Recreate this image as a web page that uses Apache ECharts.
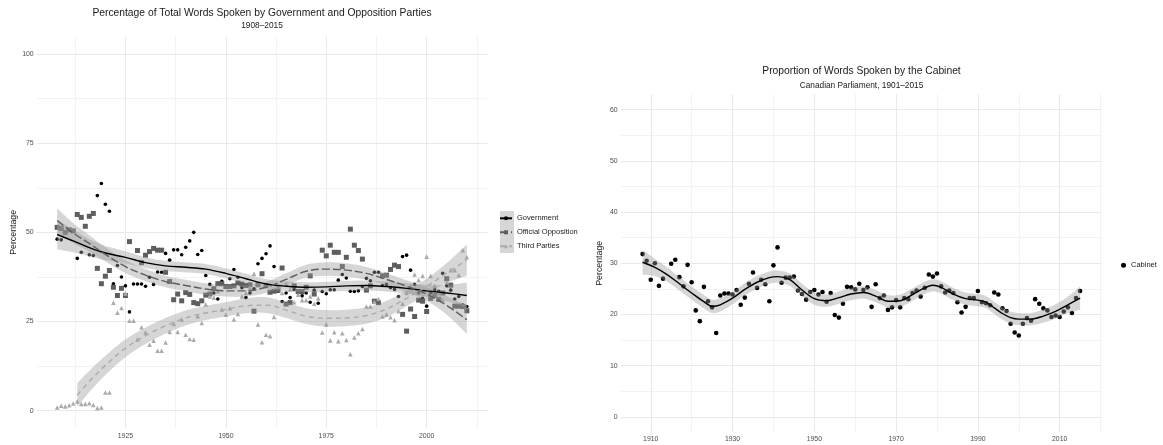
<!DOCTYPE html>
<html><head><meta charset="utf-8">
<script src="https://cdn.jsdelivr.net/npm/echarts@6/dist/echarts.min.js"></script>
<style>html,body{margin:0;padding:0;background:#fff}#c{width:1163px;height:445px}</style>
</head><body><div id="c"></div>
<script>
// ---------- Left panel: points ----------
const govYears=[1908,1909,1913,1914,1916,1917,1918,1919,1920,1921,1922,1923,1924,1925,1926,1927,1928,1929,1930,1931,1932,1933,1934,1935,1936,1937,1938,1939,1940,1941,1942,1943,1944,1945,1946,1947,1948,1949,1950,1951,1952,1953,1954,1955,1956,1957,1958,1959,1960,1961,1962,1963,1964,1965,1966,1967,1968,1969,1970,1971,1972,1973,1974,1975,1976,1977,1978,1979,1980,1981,1982,1983,1984,1985,1986,1987,1988,1989,1990,1991,1992,1993,1994,1995,1996,1997,1998,1999,2000,2001,2002,2003,2004,2005,2006,2007,2008,2009,2010];
const govValues=[48.1,47.9,42.7,44.4,43.7,43.5,60.3,63.7,57.9,55.9,35.6,40.7,37.5,35.0,27.7,35.5,35.5,35.5,34.9,37.4,35.4,38.9,38.8,44.1,42.2,45.1,45.1,43.7,45.8,47.6,50.0,43.8,44.9,37.9,35.4,33.0,31.3,36.3,35.0,37.0,39.6,37.4,34.5,31.7,33.0,34.2,41.2,42.7,44.0,46.2,40.4,33.5,30.6,33.0,31.7,34.0,33.0,32.2,33.0,30.4,33.8,30.1,33.4,32.8,33.9,33.9,36.6,38.2,37.2,33.5,33.4,33.6,34.8,37.1,36.4,38.8,38.8,35.1,35.4,34.5,34.0,32.0,43.2,43.6,39.4,35.4,33.0,31.5,29.3,33.0,34.0,33.5,38.5,35.0,33.8,31.3,32.0,29.6,29.2];
const oppYears=[1908,1909,1910,1911,1912,1913,1914,1915,1916,1917,1918,1919,1920,1921,1922,1923,1924,1925,1926,1928,1929,1930,1931,1932,1933,1934,1935,1936,1937,1938,1939,1940,1941,1942,1943,1944,1945,1946,1947,1948,1949,1950,1951,1952,1953,1954,1955,1956,1957,1958,1959,1960,1961,1962,1963,1964,1965,1966,1967,1968,1969,1970,1971,1972,1974,1975,1976,1977,1978,1979,1980,1981,1982,1983,1984,1985,1986,1987,1988,1989,1990,1991,1992,1993,1994,1995,1996,1997,1998,1999,2000,2001,2002,2003,2004,2005,2006,2007,2008,2009,2010];
const oppValues=[51.4,51.1,50.0,50.7,50.4,55.0,54.2,51.7,54.5,55.3,39.9,35.6,37.7,39.3,34.6,32.3,34.3,32.3,47.4,44.9,41.5,43.6,44.6,45.5,45.0,45.0,38.8,36.2,31.1,32.7,30.8,33.1,32.6,30.3,30.0,30.8,32.4,32.7,34.2,35.6,35.6,34.8,34.8,35.0,35.8,35.5,35.1,35.3,27.9,35.3,38.4,35.1,33.2,33.5,33.8,40.0,29.9,30.3,35.0,33.4,33.4,34.6,37.8,32.7,45.0,43.4,46.4,44.4,44.4,40.4,43.0,50.9,46.4,44.9,42.5,33.8,35.0,30.7,30.3,37.8,38.0,39.6,40.8,40.4,27.0,22.3,28.5,26.4,31.0,30.7,27.8,31.5,32.4,31.2,33.0,37.0,35.2,29.3,29.3,29.2,28.0];
const thirdYears=[1908,1909,1910,1911,1912,1913,1914,1915,1916,1917,1918,1919,1920,1921,1922,1923,1924,1925,1926,1927,1928,1929,1930,1931,1932,1933,1934,1935,1936,1937,1938,1939,1940,1941,1942,1943,1944,1945,1946,1947,1948,1949,1950,1951,1952,1953,1954,1955,1956,1957,1958,1959,1960,1961,1962,1963,1964,1965,1966,1967,1968,1969,1970,1971,1972,1973,1974,1975,1976,1977,1978,1979,1980,1981,1982,1983,1984,1985,1986,1987,1988,1989,1990,1991,1992,1993,1994,1995,1996,1997,1998,1999,2000,2001,2002,2003,2004,2005,2006,2007,2008,2009,2010];
const thirdValues=[0.9,1.4,1.2,1.5,2.0,2.6,1.9,1.9,2.1,1.6,0.7,0.9,5.1,5.1,30.3,27.5,28.8,32.9,25.2,25.2,20.0,23.4,21.9,18.5,19.6,16.8,16.8,19.1,22.1,24.3,22.1,25.6,21.3,20.1,19.9,26.5,24.6,29.8,32.0,31.7,33.5,28.4,26.9,28.7,25.6,27.1,32.0,33.0,34.5,38.4,24.2,19.2,21.3,20.9,26.3,34.8,33.0,35.5,34.0,30.4,32.5,31.0,31.0,32.0,30.0,31.5,21.9,24.2,19.7,22.0,19.5,21.7,19.8,15.8,20.5,21.7,22.9,29.2,29.2,30.5,31.3,26.4,27.0,26.2,25.4,27.9,30.0,33.0,35.0,38.2,36.6,37.8,43.2,37.8,35.0,33.0,31.0,36.0,39.4,39.4,38.0,45.0,43.0];

// ---------- Left panel: smoothers (fit and half-width of band) ----------
const govFitYears=[1908,1912,1916,1920,1925,1930,1935,1940,1945,1950,1955,1960,1965,1970,1975,1980,1985,1990,1995,2000,2005,2010];
const govFit=[49.4,47.6,45.7,44.2,43.0,41.5,40.6,40.2,39.7,38.5,37.0,35.5,34.9,34.6,34.7,35.0,35.1,34.8,34.3,33.6,33.0,32.3];
const govSE=[4.2,3.2,2.4,2.0,1.7,1.5,1.4,1.4,1.4,1.4,1.4,1.4,1.4,1.4,1.4,1.4,1.4,1.4,1.5,1.7,2.3,3.6];
const oppFitYears=[1908,1912,1916,1920,1925,1930,1935,1940,1945,1950,1955,1960,1965,1970,1975,1980,1985,1990,1995,2000,2005,2010];
const oppFit=[53.3,49.8,46.9,43.8,40.4,38.0,36.2,35.1,34.1,33.6,33.6,34.6,36.8,39.1,39.7,39.4,38.5,36.8,34.9,32.7,29.5,25.5];
const oppSE=[3.4,2.8,2.3,2.0,1.8,1.7,1.6,1.6,1.6,1.6,1.6,1.6,1.7,1.8,1.9,1.9,1.8,1.7,1.7,1.9,2.6,4.0];
const thirdFitYears=[1913,1916,1920,1925,1930,1935,1940,1945,1950,1955,1960,1965,1970,1975,1980,1985,1990,1995,2000,2005,2010];
const thirdFit=[4.4,8.2,12.7,17.5,21.0,23.8,26.0,27.4,28.4,29.4,29.6,28.2,26.5,25.9,26.0,26.7,28.5,31.5,34.8,38.6,42.2];
const thirdSE=[3.3,3.0,2.7,2.5,2.3,2.2,2.1,2.0,2.0,2.1,2.2,2.2,2.2,2.3,2.3,2.3,2.3,2.2,2.2,2.8,4.4];

// ---------- Right panel ----------
const cabYears=[1908,1909,1910,1911,1912,1913,1915,1916,1917,1918,1919,1920,1921,1922,1923,1924,1925,1926,1927,1928,1929,1930,1931,1932,1933,1934,1935,1936,1937,1938,1939,1940,1941,1942,1943,1944,1945,1946,1947,1948,1949,1950,1951,1952,1953,1954,1955,1956,1957,1958,1959,1960,1961,1962,1963,1964,1965,1966,1967,1968,1969,1970,1971,1972,1973,1974,1975,1976,1977,1978,1979,1980,1981,1982,1983,1984,1985,1986,1987,1988,1989,1990,1991,1992,1993,1994,1995,1996,1997,1998,1999,2000,2001,2002,2003,2004,2005,2006,2007,2008,2009,2010,2011,2012,2013,2014,2015];
const cabValues=[31.8,30.5,26.8,30.0,25.6,27.0,29.9,30.7,27.3,25.5,29.7,26.3,20.8,18.7,25.4,22.6,21.4,16.4,23.7,24.1,24.1,23.9,24.8,21.9,23.3,26.0,28.2,25.2,26.8,25.9,22.6,29.6,33.1,26.2,27.2,27.2,27.4,24.7,24.0,22.9,24.4,24.8,23.9,24.4,22.5,24.2,19.9,19.4,22.1,25.4,25.3,24.9,26.0,24.8,25.3,21.5,25.9,23.2,23.7,20.9,21.4,22.8,21.4,23.2,23.0,24.2,24.7,23.5,25.2,27.8,27.4,28.0,25.5,24.3,24.7,24.2,22.4,20.4,21.5,23.2,23.2,24.6,22.4,22.2,21.8,24.3,23.9,21.2,20.7,18.2,16.5,15.9,18.2,19.3,18.8,23.0,22.1,21.2,20.8,19.5,19.8,19.5,20.6,21.4,20.3,23.2,24.6];
const cabFitYears=[1908,1911,1914,1917,1920,1923,1925,1927,1930,1933,1936,1939,1941,1944,1947,1950,1953,1956,1959,1962,1965,1968,1971,1974,1977,1979,1981,1984,1987,1990,1992,1994,1996,1998,2000,2003,2006,2009,2012,2015];
const cabFit=[30.2,29.2,27.8,26.0,24.2,22.5,21.6,21.9,23.2,24.9,26.3,27.2,27.4,26.8,24.8,23.1,22.7,23.3,24.0,24.3,23.6,22.6,22.7,23.9,25.2,25.7,25.3,24.0,23.1,22.8,22.4,21.3,20.2,19.4,19.1,19.1,19.7,20.6,21.9,23.2];
const cabSE=[2.4,1.7,1.4,1.3,1.3,1.3,1.3,1.3,1.2,1.2,1.2,1.2,1.2,1.2,1.2,1.2,1.2,1.2,1.2,1.2,1.2,1.2,1.2,1.2,1.2,1.2,1.2,1.2,1.2,1.2,1.2,1.2,1.2,1.2,1.2,1.2,1.3,1.4,1.6,2.3];

// ---------- Axis ticks / grid positions ----------
const leftXLabels=[1925,1950,1975,2000];
const leftXMinor=[1912.5,1937.5,1962.5,1987.5,2012.5];
const leftYLabels=[0,25,50,75,100];
const leftYMinor=[12.5,37.5,62.5,87.5];
const rightXLabels=[1910,1930,1950,1970,1990,2010];
const rightXMinor=[1920,1940,1960,1980,2000,2020];
const rightYLabels=[0,10,20,30,40,50,60];
const rightYMinor=[5,15,25,35,45,55];

const FONT='Liberation Sans, Arial, Helvetica, sans-serif';
const pairs=(xs,ys)=>xs.map((x,i)=>[x,ys[i]]);
const BAND='rgba(153,153,153,0.4)';

// Catmull-Rom rendering of pixel points (drawing only)
function spline(p){
  const out=[]; const n=p.length; const steps=10;
  for(let i=0;i<n-1;i++){
    const p0=p[Math.max(0,i-1)],p1=p[i],p2=p[i+1],p3=p[Math.min(n-1,i+2)];
    for(let s=0;s<steps;s++){
      const t=s/steps,t2=t*t,t3=t2*t;
      const f=(a,b,c,d)=>0.5*((2*b)+(-a+c)*t+(2*a-5*b+4*c-d)*t2+(-a+3*b-3*c+d)*t3);
      out.push([f(p0[0],p1[0],p2[0],p3[0]),f(p0[1],p1[1],p2[1],p3[1])]);
    }
  }
  out.push(p[n-1]);
  return out;
}

function gridSeries(xi, xMaj, xMin, yMaj, yMin){
  const d=[];
  xMaj.forEach(v=>d.push({xAxis:v,lineStyle:{width:1,color:'#e9e9e9'}}));
  xMin.forEach(v=>d.push({xAxis:v,lineStyle:{width:0.7,color:'#eeeeee'}}));
  yMaj.forEach(v=>d.push({yAxis:v,lineStyle:{width:1,color:'#e9e9e9'}}));
  yMin.forEach(v=>d.push({yAxis:v,lineStyle:{width:0.7,color:'#eeeeee'}}));
  return {type:'line',name:'grid'+xi,xAxisIndex:xi,yAxisIndex:xi,data:[],silent:true,z:0,
    markLine:{silent:true,z:0,symbol:['none','none'],label:{show:false},animation:false,
      lineStyle:{type:'solid'},emphasis:{disabled:true},data:d}};
}
function band(key, xs, fit, se, xi){
  return {type:'custom',name:key+'Band',xAxisIndex:xi,yAxisIndex:xi,silent:true,z:2,clip:true,
    data:[[xs[0],fit[0]]],
    renderItem:function(params,api){
      const up=xs.map((x,i)=>api.coord([x,fit[i]+se[i]]));
      const lo=xs.map((x,i)=>api.coord([x,fit[i]-se[i]]));
      const pts=spline(up).concat(spline(lo).reverse());
      return {type:'polygon',shape:{points:pts},style:{fill:BAND,stroke:null}};
    }};
}
function fitLine(name, xs, fit, xi, color, type, width, symbol){
  return {type:'line',name:name,xAxisIndex:xi,yAxisIndex:xi,data:pairs(xs,fit),smooth:0.35,
    symbol:symbol,showSymbol:false,symbolSize:4,silent:true,z:3,itemStyle:{color:color},
    lineStyle:{color:color,width:width,type:type},emphasis:{disabled:true}};
}
function pts(name, xs, ys, xi, symbol, size, color){
  return {type:'scatter',name:name,xAxisIndex:xi,yAxisIndex:xi,data:pairs(xs,ys),symbol:symbol,
    symbolSize:size,itemStyle:{color:color,opacity:1},silent:true,z:1,emphasis:{disabled:true}};
}
const axisLbl=(vals)=>({customValues:vals,formatter:(v)=>String(v),fontFamily:FONT,fontSize:6.9,color:'#4d4d4d'});

const chart=echarts.init(document.getElementById('c'),null,{renderer:'canvas'});
chart.setOption({
  animation:false,
  backgroundColor:'#ffffff',
  textStyle:{fontFamily:FONT},
  title:[
    {text:'Percentage of Total Words Spoken by Government and Opposition Parties',subtext:'1908–2015',
     left:262,top:7,textAlign:'center',itemGap:2,padding:0,
     textStyle:{fontFamily:FONT,fontSize:10.3,fontWeight:'normal',color:'#1a1a1a',lineHeight:12},
     subtextStyle:{fontFamily:FONT,fontSize:8.3,color:'#1a1a1a',lineHeight:10}},
    {text:'Proportion of Words Spoken by the Cabinet',subtext:'Canadian Parliament, 1901–2015',
     left:861.5,top:65,textAlign:'center',itemGap:4,padding:0,
     textStyle:{fontFamily:FONT,fontSize:10.3,fontWeight:'normal',color:'#1a1a1a',lineHeight:12},
     subtextStyle:{fontFamily:FONT,fontSize:8.3,color:'#1a1a1a',lineHeight:10}}
  ],
  legend:[
    {data:['Government','Official Opposition','Third Parties'],orient:'vertical',left:499,top:213.3,padding:0,
     itemWidth:12,itemHeight:5,itemGap:4,selectedMode:false,
     textStyle:{fontFamily:FONT,fontSize:7.5,color:'#1a1a1a',lineHeight:10}},
    {data:['Cabinet'],orient:'vertical',left:1121,top:260.3,padding:0,itemWidth:5,itemHeight:5,selectedMode:false,
     textStyle:{fontFamily:FONT,fontSize:7.5,color:'#1a1a1a',lineHeight:10}}
  ],
  graphic:[{type:'rect',z:0,silent:true,shape:{x:500,y:211,width:14,height:42},style:{fill:'#d6d6d6'}}],
  grid:[
    {left:36.7,top:36.2,width:450.6,height:392.3,containLabel:false,outerBoundsMode:'none'},
    {left:620.7,top:94.3,width:481.3,height:338,containLabel:false,outerBoundsMode:'none'}
  ],
  xAxis:[
    {type:'value',gridIndex:0,min:1902.9,max:2015.1,axisLine:{show:false},axisTick:{show:false},splitLine:{show:false},
     axisLabel:Object.assign(axisLbl(leftXLabels),{margin:4.5})},
    {type:'value',gridIndex:1,min:1902.65,max:2020.35,axisLine:{show:false},axisTick:{show:false},splitLine:{show:false},
     axisLabel:Object.assign(axisLbl(rightXLabels),{margin:3.5})}
  ],
  yAxis:[
    {type:'value',gridIndex:0,min:-5,max:105,axisLine:{show:false},axisTick:{show:false},splitLine:{show:false},
     axisLabel:Object.assign(axisLbl(leftYLabels),{margin:3}),
     name:'Percentage',nameLocation:'middle',nameGap:18,nameRotate:90,
     nameTextStyle:{fontFamily:FONT,fontSize:8.8,color:'#1a1a1a'}},
    {type:'value',gridIndex:1,min:-3,max:63,axisLine:{show:false},axisTick:{show:false},splitLine:{show:false},
     axisLabel:Object.assign(axisLbl(rightYLabels),{margin:3}),
     name:'Percentage',nameLocation:'middle',nameGap:17,nameRotate:90,
     nameTextStyle:{fontFamily:FONT,fontSize:8.8,color:'#1a1a1a'}}
  ],
  series:[
    gridSeries(0,leftXLabels,leftXMinor,leftYLabels,leftYMinor),
    gridSeries(1,rightXLabels,rightXMinor,rightYLabels,rightYMinor),
    pts('Government points',govYears,govValues,0,'circle',3.6,'#000000'),
    pts('Opposition points',oppYears,oppValues,0,'rect',5,'#5e5e5e'),
    pts('Third points',thirdYears,thirdValues,0,'triangle',4.6,'#ababab'),
    band('gov',govFitYears,govFit,govSE,0),
    band('opp',oppFitYears,oppFit,oppSE,0),
    band('third',thirdFitYears,thirdFit,thirdSE,0),
    fitLine('Government',govFitYears,govFit,0,'#000000','solid',1.4,'circle'),
    fitLine('Official Opposition',oppFitYears,oppFit,0,'#5e5e5e',[8,3],1.4,'rect'),
    fitLine('Third Parties',thirdFitYears,thirdFit,0,'#ababab',[5,4],1.4,'triangle'),
    pts('Cabinet',cabYears,cabValues,1,'circle',4.6,'#000000'),
    band('cab',cabFitYears,cabFit,cabSE,1),
    fitLine('Cabinet fit',cabFitYears,cabFit,1,'#000000','solid',1.4,'none')
  ]
});
</script></body></html>
